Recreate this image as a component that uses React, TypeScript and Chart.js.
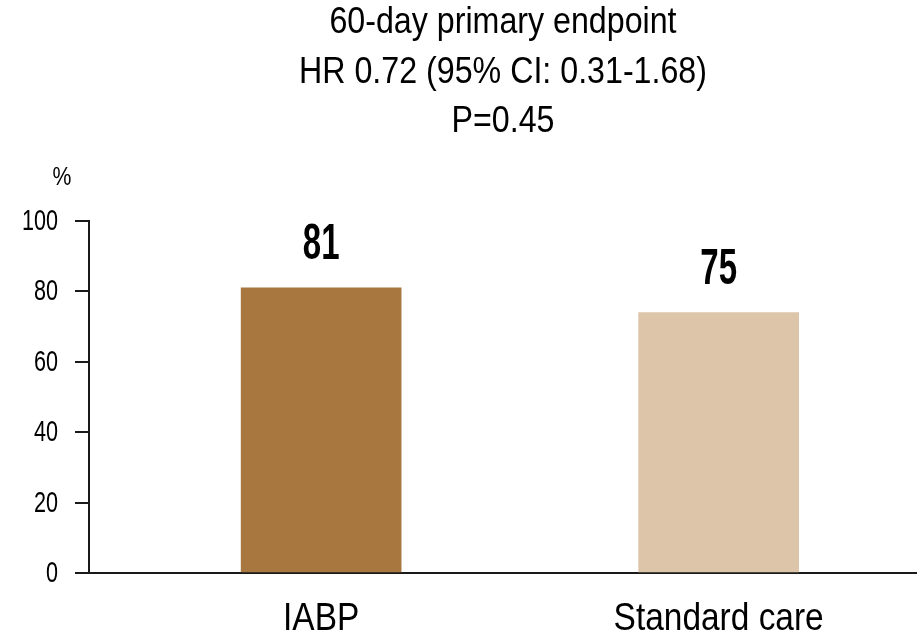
import React, { useEffect, useRef } from "react";
import { Chart, registerables } from "chart.js";

Chart.register(...registerables);

const categories = ["IABP", "Standard care"];
const values = [81, 74];
const valueLabels = ["81", "75"];
const barColors = ["#A87740", "#DCC5A9"];
const titleLines = ["60-day primary endpoint", "HR 0.72 (95% CI: 0.31-1.68)", "P=0.45"];
const yUnit = "%";
const yTicks = [0, 20, 40, 60, 80, 100];

const FONT = "'Liberation Sans', Arial, sans-serif";

function drawScaled(ctx: any, text: string, x: number, y: number, sx: number, align: string) {
  ctx.save();
  ctx.translate(x, y);
  ctx.scale(sx, 1);
  ctx.textAlign = align;
  ctx.fillText(text, 0, 0);
  ctx.restore();
}

const overlayPlugin = {
  id: "overlay",
  afterDraw(chart: any) {
    const ctx = chart.ctx;
    const area = chart.chartArea;
    const xs = chart.scales.x;
    const ys = chart.scales.y;
    ctx.save();
    ctx.fillStyle = "#000";
    ctx.textBaseline = "alphabetic";
    // title
    ctx.font = `normal 37px ${FONT}`;
    const cx = (area.left + area.right) / 2;
    titleLines.forEach((t, i) => {
      drawScaled(ctx, t, cx, 33 + i * 49.5, 0.87, "center");
    });
    // unit
    ctx.font = `normal 25px ${FONT}`;
    drawScaled(ctx, yUnit, 62, 185, 0.85, "center");
    // y tick labels
    ctx.font = `normal 30px ${FONT}`;
    yTicks.forEach((v) => {
      const y = ys.getPixelForValue(v);
      drawScaled(ctx, String(v), 58, y + 9, 0.72, "right");
    });
    // category labels
    ctx.font = `normal 38px ${FONT}`;
    categories.forEach((c, i) => {
      drawScaled(ctx, c, xs.getPixelForValue(i), 630, 0.88, "center");
    });
    // value labels
    ctx.font = `bold 50px ${FONT}`;
    values.forEach((v, i) => {
      const x = xs.getPixelForValue(i);
      const y = ys.getPixelForValue(v);
      drawScaled(ctx, valueLabels[i], x, y - 29, 0.66, "center");
    });
    ctx.restore();
  },
};

export default function App() {
  const ref = useRef<HTMLCanvasElement | null>(null);
  useEffect(() => {
    document.body.style.margin = "0";
    const c = ref.current!;
    const chart = new Chart(c, {
      type: "bar",
      data: {
        datasets: [
          {
            data: values.map((v, i) => ({ x: i, y: v })),
            backgroundColor: barColors,
            barThickness: 160,
          },
        ],
      },
      options: {
        animation: false,
        responsive: false,
        maintainAspectRatio: false,
        layout: { padding: { top: 221, right: 0, left: 0, bottom: 0 } },
        plugins: { legend: { display: false }, tooltip: { enabled: false }, title: { display: false } },
        scales: {
          x: {
            type: "linear",
            offset: false,
            min: -0.584,
            max: 1.499,
            afterBuildTicks: (axis: any) => {
              axis.ticks = categories.map((_, i) => ({ value: i }));
            },
            afterFit: (scale: any) => {
              scale.height = 68;
            },
            grid: { display: false, drawTicks: false, offset: false },
            border: { display: true, color: "#1a1a1a", width: 2 },
            ticks: { display: false },
          },
          y: {
            min: 0,
            max: 100,
            afterBuildTicks: (axis: any) => {
              axis.ticks = yTicks.map((v) => ({ value: v }));
            },
            afterFit: (scale: any) => {
              scale.width = 89;
            },
            grid: { drawOnChartArea: false, drawTicks: true, tickLength: 14, color: "#1a1a1a", lineWidth: 2 },
            border: { display: true, color: "#1a1a1a", width: 2 },
            ticks: { display: false },
          },
        },
      },
      plugins: [overlayPlugin],
    });
    return () => chart.destroy();
  }, []);
  return (
    <div style={{ width: 917, height: 641 }}>
      <canvas ref={ref} width={917} height={641} style={{ display: "block", width: 917, height: 641 }} />
    </div>
  );
}
